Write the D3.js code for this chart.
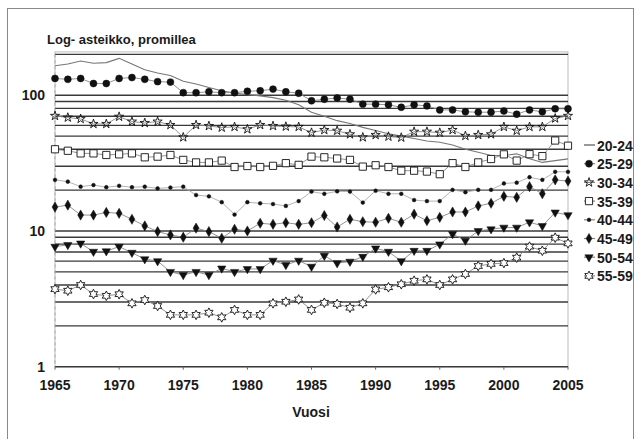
<!DOCTYPE html>
<html>
<head>
<meta charset="utf-8">
<script src="https://cdn.jsdelivr.net/npm/d3@7"></script>
<style>
  body { margin: 0; background: #fff; }
  svg { display: block; }
  text { font-family: "Liberation Sans Narrow", "Arial Narrow", "Liberation Sans", sans-serif; font-weight: bold; fill: #1a1a1a; }
</style>
</head>
<body>
<svg id="chart" width="636" height="439"></svg>
<script>
// vuodet ja sarjat (promillea)
const years = [1965,1966,1967,1968,1969,1970,1971,1972,1973,1974,1975,1976,1977,1978,1979,1980,1981,1982,1983,1984,1985,
               1986,1987,1988,1989,1990,1991,1992,1993,1994,1995,1996,1997,1998,1999,2000,2001,2002,2003,2004,2005];
const xTicks = [1965,1970,1975,1980,1985,1990,1995,2000,2005];
const yTicks = [1,10,100];

const s2024 = [165,170,179,172,174,187,170,154,146,140,127,121,114,108,104,101,99,96,92,85,75,70,65,62,58,55,52,50,48,46,45,43,40,38,36,36,37,34,32,33,34];
const s2529 = [133,131,133,122,122,133,135,131,126,125,104.5,104.5,106,104.5,104.5,107,108,111,106,103.5,91,93.5,95.5,93.5,86,86,85,81.5,85,83.5,78,78,75.5,75,75,76.5,72.5,78,75.5,79.5,79.5];
const s3034 = [70.5,68.5,67,61.5,61.5,69.5,64,62.5,64,60.4,49,60.4,59.4,57.8,58.5,56.2,60.4,59.4,58.8,58.5,53,55.5,54.8,51.6,49,51,49.6,48.8,53.9,53.9,53,55.5,50.2,51,51.6,58.5,54.8,58.5,58.5,67.5,70.5];
const s3539 = [40,39,37.3,37.3,36.3,36.7,37.3,34.9,35.3,36.3,33.4,32,32,33,29.6,30.1,29.6,30.2,31.6,30.7,35.3,34.9,34.2,33.4,29.8,30.5,29.6,27.8,27.8,27.4,26.2,31.6,29.6,32,33.9,36.7,33,36.8,35.6,46.4,42.5];
const s4044 = [23.8,23.1,21.2,21.8,21,21.5,21,21.2,20.6,20.9,21.2,18.4,18,16.3,13.2,16.3,16,15.8,15.3,16.6,19.5,18.8,19.6,19.5,16.2,19.8,18.8,18.8,16.9,16.6,16.6,20.1,19.3,20.1,20.1,22.4,22.7,24.9,23.8,27.3,27.3];
const s4549 = [15,15.5,13.1,13.1,13.7,13.5,12.2,10.9,9.9,9.35,9,10.5,9.9,8.84,10.3,10,11.4,11.2,11.5,11.2,11.5,13,10.7,12.2,11.7,11.6,12.4,11.6,13.3,11.9,12.6,13.8,13.8,15.3,16,18,17.7,21.2,18.8,23.8,23.3];
const s5054 = [7.67,7.89,8.1,7.04,7.1,7.67,6.92,6.2,6,5,4.74,5,4.74,5.3,5,5.25,5.25,6.05,5.62,6.05,5.46,6.57,5.8,5.95,6.46,7.45,7.04,6,7.15,7.15,7.98,9.5,8.5,10,10.3,10.6,10.6,11.6,10.9,13.7,13.1];
const s5559 = [3.73,3.63,4,3.43,3.33,3.42,2.93,3.1,2.8,2.41,2.41,2.41,2.5,2.31,2.62,2.41,2.41,2.93,3.01,3.13,2.62,2.96,2.9,2.72,2.93,3.71,3.85,4.05,4.3,4.4,4,4.4,4.82,5.52,5.72,5.8,6.36,7.67,7.15,8.93,8.1];

const seriesNames = ['20-24','25-29','30-34','35-39','40-44','45-49','50-54','55-59'];
const seriesValues = [s2024, s2529, s3034, s3539, s4044, s4549, s5054, s5559];
const markers = ['none','circle','star5','square','dot','diamond','triangle','star6'];

const svg = d3.select('#chart');

const x = d3.scaleLinear().domain([1965, 2005]).range([55, 568]);
const y = d3.scaleLog().domain([1, 200]).range([366.7, 54.4]);

// ulkokehys
svg.append('rect')
    .attr('x', 7.5).attr('y', 8.5)
    .attr('width', 626).attr('height', 440)
    .style('fill', 'none')
    .style('stroke', '#888')
    .style('stroke-width', 1);

// piirtoalueen reuna
svg.append('rect')
    .attr('x', x(1965)).attr('y', y(200) - 2.5)
    .attr('width', x(2005) - x(1965)).attr('height', y(1) - y(200) + 2.5)
    .style('fill', 'none')
    .style('stroke', '#bbb')
    .style('stroke-width', 1);

// vaakaviivat
svg.append('g')
    .selectAll('line')
    .data(y.ticks())
    .enter()
    .append('line')
    .attr('x1', x(1965)).attr('x2', x(2005))
    .attr('y1', d => y(d)).attr('y2', d => y(d))
    .style('stroke', '#3a3a3a')
    .style('stroke-width', 1.4);

// vasen akseli katkoviivana
svg.append('line')
    .attr('x1', x(1965)).attr('x2', x(1965))
    .attr('y1', y(200)).attr('y2', y(1))
    .style('stroke', '#aaa')
    .style('stroke-dasharray', '3,3');

// y-akselin tekstit
svg.append('g')
    .selectAll('text')
    .data(yTicks)
    .enter()
    .append('text')
    .attr('x', 45)
    .attr('y', d => y(d) + 5)
    .attr('text-anchor', 'end')
    .style('font-size', '14px')
    .text(d => d);

// x-akselin tekstit
svg.append('g')
    .selectAll('text')
    .data(xTicks)
    .enter()
    .append('text')
    .attr('x', d => x(d))
    .attr('y', 390)
    .attr('text-anchor', 'middle')
    .style('font-size', '14px')
    .text(d => d);

svg.append('g')
    .selectAll('line')
    .data(xTicks)
    .enter()
    .append('line')
    .attr('x1', d => x(d)).attr('x2', d => x(d))
    .attr('y1', y(1)).attr('y2', y(1) + 3)
    .style('stroke', '#666');

svg.append('text')
    .attr('x', 311).attr('y', 417)
    .attr('text-anchor', 'middle')
    .style('font-size', '14px')
    .text('Vuosi');

svg.append('text')
    .attr('x', 47).attr('y', 44)
    .style('font-size', '13px')
    .text('Log- asteikko, promillea');

// merkit
function markerPath (type) {
    if (type === 'circle') return d3.symbol(d3.symbolCircle, 38)();
    if (type === 'square') return d3.symbol(d3.symbolSquare, 52)();
    if (type === 'dot') return d3.symbol(d3.symbolCircle, 11)();
    if (type === 'diamond') return d3.symbol(d3.symbolDiamond, 30)();
    if (type === 'triangle') return d3.symbol(d3.symbolTriangle, 30)();
    if (type === 'star5') return d3.symbol(d3.symbolStar, 26)();
    if (type === 'star6') {
        const pts = [];
        for (let i = 0; i < 12; i++) {
            const r = i % 2 ? 2.6 : 4.8;
            const a = i * Math.PI / 6 - Math.PI / 2;
            pts.push([r * Math.cos(a), r * Math.sin(a)]);
        }
        return 'M' + pts.map(p => p[0].toFixed(2) + ',' + p[1].toFixed(2)).join('L') + 'Z';
    }
    return null;
}

function markerStyle (sel, type) {
    const hollow = type === 'square' || type === 'star5' || type === 'star6';
    sel.attr('d', markerPath(type))
        .style('fill', hollow ? '#fff' : '#111')
        .style('fill-opacity', type === 'star5' ? 0 : 1)
        .style('stroke', '#111')
        .style('stroke-width', hollow ? 0.9 : 0.5);
}

const line = d3.line()
    .x((d, i) => x(years[i]))
    .y(d => y(d));

seriesValues.forEach(function (vals, k) {
    const type = markers[k];
    const g = svg.append('g').attr('class', 'series');

    g.append('path')
        .attr('d', line(vals))
        .style('fill', 'none')
        .style('stroke', type === 'none' ? '#777' : (type === 'dot' ? '#aaa' : '#888'))
        .style('stroke-width', type === 'none' ? 1.1 : 0.9);

    if (type !== 'none') {
        g.selectAll('path.m')
            .data(vals)
            .enter()
            .append('path')
            .attr('class', 'm')
            .call(markerStyle, type)
            .attr('transform', (d, i) => 'translate(' + x(years[i]) + ',' + y(d) + ')' + (type === 'triangle' ? ' rotate(180)' : ''));
    }
});

// selite
const legend = svg.append('g')
    .selectAll('g')
    .data(seriesNames)
    .enter()
    .append('g')
    .attr('transform', (d, i) => 'translate(589,' + (145 + i * 18.7) + ')');

legend.append('line')
    .attr('x1', -5).attr('x2', 6)
    .style('stroke', (d, i) => i === 0 ? '#555' : '#888')
    .style('stroke-width', 1.2);

legend.each(function (d, i) {
    const type = markers[i];
    if (type === 'none') return;
    d3.select(this).append('path')
        .call(markerStyle, type)
        .attr('transform', type === 'triangle' ? 'rotate(180)' : null);
});

legend.append('text')
    .attr('x', 8)
    .attr('y', 5.5)
    .style('font-size', '14px')
    .text(d => d);
</script>
</body>
</html>
